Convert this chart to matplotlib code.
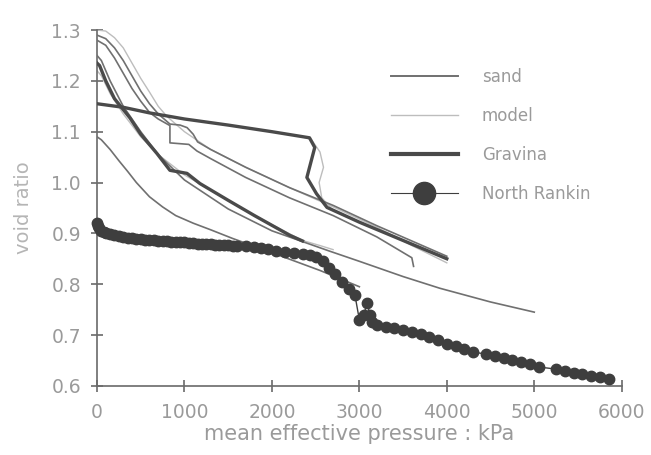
import matplotlib
matplotlib.use("Agg")
import matplotlib.pyplot as plt
from matplotlib.lines import Line2D

# ---------------- data ----------------
# sand curves
sand1_p = [0, 50, 150, 250, 350, 450, 600, 750, 900, 1100, 1300, 1550, 2000, 2550, 3000]
sand1_e = [1.09, 1.084, 1.065, 1.043, 1.022, 1.0, 0.972, 0.952, 0.935, 0.92, 0.907, 0.89,
           0.862, 0.827, 0.795]

sand2_p = [0, 50, 150, 300, 500, 700, 1000, 1500, 2000, 2660, 3000, 3500, 3920, 4500, 5000]
sand2_e = [1.25, 1.24, 1.2, 1.15, 1.1, 1.055, 1.005, 0.948, 0.905, 0.865, 0.845, 0.815,
           0.792, 0.765, 0.745]

sand3_p = [0, 100, 200, 300, 400, 500, 600, 700, 834, 834, 1050, 1143, 1300, 1700, 2200,
           2700, 3200, 3600, 3620]
sand3_e = [1.28, 1.27, 1.245, 1.215, 1.185, 1.16, 1.138, 1.125, 1.112, 1.078, 1.075, 1.062,
           1.047, 1.01, 0.97, 0.935, 0.893, 0.852, 0.835]

sand4_p = [0, 100, 200, 300, 400, 500, 600, 700, 834, 950, 1030, 1100, 1150, 1300, 1700,
           2200, 2700, 3200, 3600, 4000]
sand4_e = [1.29, 1.283, 1.265, 1.24, 1.21, 1.18, 1.155, 1.135, 1.115, 1.113, 1.108, 1.095,
           1.08, 1.065, 1.03, 0.99, 0.955, 0.915, 0.885, 0.855]

# model curves
model1_p = [0, 100, 200, 300, 400, 500, 600, 700, 800, 1000, 1300, 1700, 2200, 2700, 3200,
            3600, 4000]
model1_e = [1.3, 1.298, 1.285, 1.265, 1.235, 1.205, 1.178, 1.15, 1.13, 1.1, 1.065, 1.03,
            0.99, 0.952, 0.912, 0.876, 0.842]

model2_p = [2300, 2450, 2550, 2590, 2540, 2570, 2700]
model2_e = [1.092, 1.085, 1.06, 1.03, 1.0, 0.97, 0.945]

model3_p = [0, 50, 150, 300, 500, 700, 1000, 1300, 1800, 2350, 2550, 2700]
model3_e = [1.22, 1.21, 1.175, 1.135, 1.09, 1.055, 1.015, 0.985, 0.935, 0.886, 0.876, 0.868]

# Gravina
grav1_p = [0, 300, 600, 1000, 1500, 2000, 2430, 2490, 2400, 2510, 2630, 3000, 3500, 4000]
grav1_e = [1.155, 1.148, 1.137, 1.125, 1.113, 1.1, 1.088, 1.069, 1.01, 0.978, 0.951, 0.922,
           0.886, 0.85]

grav2_p = [0, 30, 100, 200, 377, 500, 686, 834, 1029, 1177, 1500, 1800, 2206, 2350]
grav2_e = [1.235, 1.23, 1.2, 1.165, 1.127, 1.095, 1.057, 1.024, 1.018, 0.998, 0.965, 0.935,
           0.896, 0.885]

# North Rankin
nr_p = [0, 10, 25, 50, 75, 100, 150, 200, 250, 300, 350, 400, 450, 500, 550, 600, 650, 700,
        750, 800, 850, 900, 950, 1000, 1050, 1100, 1150, 1200, 1250, 1300, 1350, 1400, 1450,
        1500, 1550, 1600, 1700, 1800, 1870, 1950, 2050, 2150, 2250, 2350, 2430, 2500, 2580,
        2650, 2720, 2800, 2880, 2950, 3000, 3050, 3090, 3120, 3150, 3200, 3300, 3400,
        3500, 3600, 3700, 3800, 3900, 4000, 4100, 4200, 4300, 4450, 4550, 4650, 4750,
        4850, 4950, 5050, 5250, 5350, 5450, 5550, 5650, 5750, 5850]
nr_e = [0.92, 0.915, 0.91, 0.905, 0.902, 0.9, 0.898, 0.896, 0.894, 0.892, 0.891, 0.89,
        0.889, 0.888, 0.887, 0.886, 0.886, 0.885, 0.884, 0.884, 0.883, 0.883, 0.882, 0.882,
        0.881, 0.881, 0.88, 0.88, 0.879, 0.879, 0.878, 0.878, 0.877, 0.877, 0.876, 0.876,
        0.875, 0.873, 0.871, 0.869, 0.866, 0.864, 0.862, 0.86, 0.857, 0.853, 0.845, 0.832,
        0.82, 0.805, 0.79, 0.778, 0.73, 0.74, 0.763, 0.74, 0.725, 0.72, 0.716, 0.713, 0.71,
        0.706, 0.702, 0.697, 0.69, 0.683, 0.678, 0.672, 0.667, 0.662, 0.658, 0.654, 0.65,
        0.646, 0.642, 0.637, 0.633, 0.629, 0.626, 0.623, 0.62, 0.617, 0.614]

x_ticks = [0, 1000, 2000, 3000, 4000, 5000, 6000]
y_ticks = [0.6, 0.7, 0.8, 0.9, 1.0, 1.1, 1.2, 1.3]
legend_labels = ["sand", "model", "Gravina", "North Rankin"]

# ---------------- styling ----------------
sand_c = "#707070"
model_c = "#bdbdbd"
grav_c = "#4a4a4a"
nr_c = "#3e3e3e"
text_c = "#9a9a9a"
axis_c = "#6a6a6a"

fig = plt.figure(figsize=(6.51, 4.55), dpi=100)
ax = fig.add_axes([0.149, 0.152, 0.806, 0.782])

for p, e in [(model1_p, model1_e), (model2_p, model2_e), (model3_p, model3_e)]:
    ax.plot(p, e, color=model_c, lw=1.0, zorder=2)
for p, e in [(sand1_p, sand1_e), (sand2_p, sand2_e), (sand3_p, sand3_e), (sand4_p, sand4_e)]:
    ax.plot(p, e, color=sand_c, lw=1.2, zorder=3)
for p, e in [(grav1_p, grav1_e), (grav2_p, grav2_e)]:
    ax.plot(p, e, color=grav_c, lw=2.4, zorder=4)
ax.plot(nr_p, nr_e, color=nr_c, lw=1.0, marker="o", ms=7.5, mec=nr_c, mfc=nr_c,
        zorder=5, clip_on=False)

ax.set_xlim(0, 6000)
ax.set_ylim(0.6, 1.3)
ax.set_xticks(x_ticks)
ax.set_yticks(y_ticks)
ax.set_xticklabels([str(v) for v in x_ticks])
ax.set_yticklabels([f"{v:.1f}" for v in y_ticks])

for s in ["top", "right"]:
    ax.spines[s].set_visible(False)
for s in ["left", "bottom"]:
    ax.spines[s].set_color(axis_c)
    ax.spines[s].set_linewidth(1.2)
ax.tick_params(direction="inout", length=9, width=1.2, color=axis_c,
               labelsize=13.5, labelcolor=text_c)
ax.tick_params(axis="x", pad=8)
ax.tick_params(axis="y", pad=7)

ax.set_xlabel("mean effective pressure : kPa", fontsize=15, color=text_c, labelpad=1)
ax.set_ylabel("void ratio", fontsize=14, color="#b5b5b5", labelpad=13)

handles = [
    Line2D([], [], color=sand_c, lw=1.4),
    Line2D([], [], color=model_c, lw=1.0),
    Line2D([], [], color=grav_c, lw=3.0),
    Line2D([], [], color=nr_c, lw=0.8, marker="o", ms=16),
]
leg = ax.legend(handles, legend_labels, loc="upper left", bbox_to_anchor=(0.532, 0.935),
                frameon=False, fontsize=12, handlelength=4.0, handletextpad=1.45,
                labelspacing=1.26, labelcolor=text_c)

fig.savefig("out.png", dpi=100)
